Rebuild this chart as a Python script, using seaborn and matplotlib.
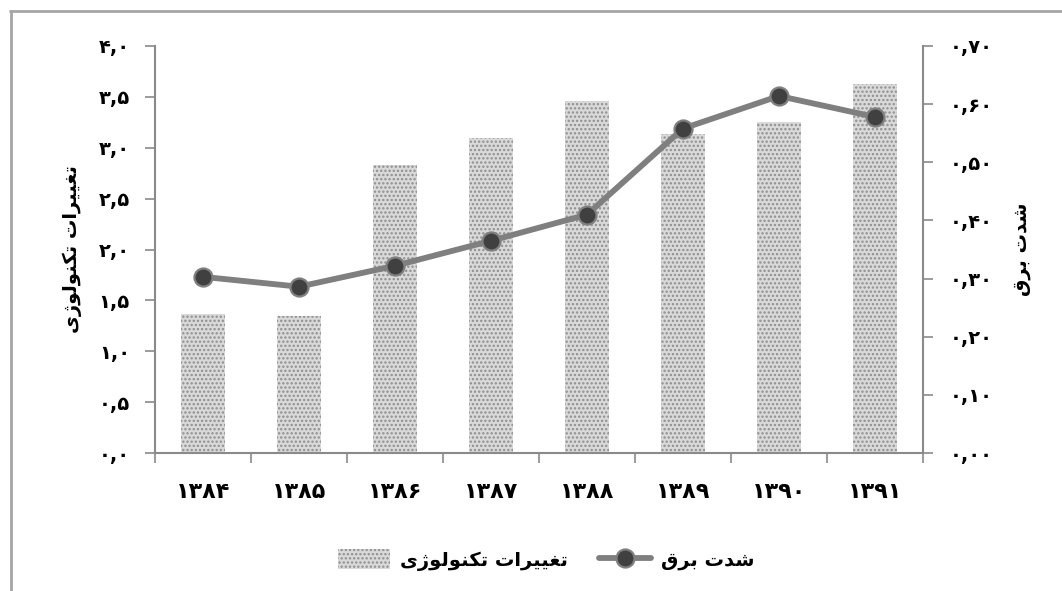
import numpy as np
import seaborn as sns
import matplotlib.pyplot as plt
from matplotlib.lines import Line2D

# data
years = ['۱۳۸۴', '۱۳۸۵', '۱۳۸۶', '۱۳۸۷', '۱۳۸۸', '۱۳۸۹', '۱۳۹۰', '۱۳۹۱']
tech_change = [1.37, 1.35, 2.83, 3.10, 3.46, 3.14, 3.25, 3.63]
elec_intensity = [0.303, 0.286, 0.322, 0.365, 0.410, 0.558, 0.614, 0.578]
left_ticks = [0.0, 0.5, 1.0, 1.5, 2.0, 2.5, 3.0, 3.5, 4.0]
right_ticks = [0.0, 0.1, 0.2, 0.3, 0.4, 0.5, 0.6, 0.7]
tech_label = 'تغییرات تکنولوژی'
elec_label = 'شدت برق'

# matplotlib does no arabic shaping, so map letters to presentation forms
# (isolated, final, initial, medial) and reverse for display
DUAL = {
    'ت': '\uFE95\uFE96\uFE97\uFE98', 'غ': '\uFECD\uFECE\uFECF\uFED0',
    'ی': '\uFBFC\uFBFD\uFBFE\uFBFF', 'ک': '\uFB8E\uFB8F\uFB90\uFB91',
    'ن': '\uFEE5\uFEE6\uFEE7\uFEE8', 'ل': '\uFEDD\uFEDE\uFEDF\uFEE0',
    'ش': '\uFEB5\uFEB6\uFEB7\uFEB8', 'ب': '\uFE8F\uFE90\uFE91\uFE92',
    'ق': '\uFED5\uFED6\uFED7\uFED8',
}
RIGHT = {
    'ر': '\uFEAD\uFEAE', 'ا': '\uFE8D\uFE8E', 'و': '\uFEED\uFEEE',
    'ژ': '\uFB8A\uFB8B', 'د': '\uFEA9\uFEAA',
}


def shape(text):
    out = []
    for i, c in enumerate(text):
        prev = text[i - 1] if i > 0 else ' '
        nxt = text[i + 1] if i + 1 < len(text) else ' '
        if c in DUAL:
            jp = prev in DUAL
            jn = nxt in DUAL or nxt in RIGHT
            idx = 3 if (jp and jn) else 1 if jp else 2 if jn else 0
            out.append(DUAL[c][idx])
        elif c in RIGHT:
            out.append(RIGHT[c][1 if prev in DUAL else 0])
        else:
            out.append(c)
    return ''.join(reversed(out))


fa = str.maketrans('0123456789', '۰۱۲۳۴۵۶۷۸۹')

sns.set_style('white')
plt.rcParams['font.family'] = ['DejaVu Sans']
plt.rcParams['hatch.linewidth'] = 1.1
plt.rcParams['text.color'] = 'black'
plt.rcParams['axes.labelcolor'] = 'black'
plt.rcParams['xtick.labelcolor'] = 'black'
plt.rcParams['ytick.labelcolor'] = 'black'

spine_col = '#8a8a8a'

fig = plt.figure(figsize=(10.62, 5.91), dpi=100)
ax = fig.add_axes([155 / 1062, 138 / 591, 768 / 1062, 407 / 591])

sns.barplot(x=years, y=tech_change, ax=ax, color='#d9d9d9', width=0.45,
            linewidth=0, saturation=1)
for p in ax.patches:
    p.set_hatch('....')
    p.set_edgecolor('#8e8e8e')
    p.set_linewidth(0)

ax2 = ax.twinx()
sns.pointplot(x=years, y=elec_intensity, ax=ax2, color='#7f7f7f',
              markers='o', markersize=13, linewidth=4.2)
for ln in ax2.lines:
    ln.set_markerfacecolor('#404040')
    ln.set_markeredgecolor('#808080')
    ln.set_markeredgewidth(1.6)
    ln.set_zorder(5)

ax.set_xlim(-0.5, 7.5)
ax.set_ylim(0, 4.0)
ax2.set_ylim(0, 0.70)

ax.set_yticks(left_ticks)
ax.set_yticklabels([f'{v:.1f}'.replace('.', ',').translate(fa) for v in left_ticks])
ax2.set_yticks(right_ticks)
ax2.set_yticklabels([f'{v:.2f}'.replace('.', ',').translate(fa) for v in right_ticks])

ax.set_xticks(range(len(years)))
ax.set_xticklabels(years)
ax.set_xticks(np.arange(-0.5, len(years), 1.0), minor=True)
ax.tick_params(axis='x', which='major', length=0, pad=21, labelsize=16,
               labelcolor='black')
ax.tick_params(axis='x', which='minor', length=7, width=1.2, color=spine_col,
               direction='out', bottom=True)
ax.tick_params(axis='y', length=7, width=1.2, color=spine_col, pad=11,
               labelsize=14, left=True, labelcolor='black')
ax2.tick_params(axis='y', length=7, width=1.2, color=spine_col, pad=12,
                labelsize=14, right=True, labelcolor='black')
for t in ax.get_xticklabels() + ax.get_yticklabels() + ax2.get_yticklabels():
    t.set_fontweight('bold')

for a in (ax, ax2):
    for s in a.spines.values():
        s.set_visible(False)
    a.set_xlabel('')
    a.grid(False)
ax.spines['left'].set_visible(True)
ax.spines['bottom'].set_visible(True)
ax2.spines['right'].set_visible(True)
for s in (ax.spines['left'], ax.spines['bottom'], ax2.spines['right']):
    s.set_color(spine_col)
    s.set_linewidth(1.5)

ax.set_ylabel(shape(tech_label), fontsize=14, fontweight='bold', labelpad=12,
              color='black')
ax2.set_ylabel(shape(elec_label), fontsize=14, fontweight='bold',
               rotation=90, labelpad=14, color='black')

# legend
bar_handle = ax.patches[0]
line_handle = Line2D([], [], color='#7f7f7f', lw=4.2, marker='o',
                     markersize=13, markerfacecolor='#404040',
                     markeredgecolor='#808080', markeredgewidth=1.6)
leg = fig.legend([bar_handle, line_handle],
                 [shape(tech_label), shape(elec_label)],
                 loc='center', bbox_to_anchor=(546 / 1062, 1 - 560 / 591),
                 ncol=2, frameon=False, handlelength=2.7, handleheight=1.2,
                 handletextpad=0.5, columnspacing=1.6,
                 prop={'size': 14, 'weight': 'bold'}, labelcolor='black')

# outer frame
fig.add_artist(Line2D([10.5 / 1062, 10.5 / 1062], [0, 1 - 11 / 591],
                      transform=fig.transFigure, color='#a6a6a6', lw=2))
fig.add_artist(Line2D([10 / 1062, 1], [1 - 11 / 591, 1 - 11 / 591],
                      transform=fig.transFigure, color='#a6a6a6', lw=2))

fig.savefig('out.png', dpi=100)
